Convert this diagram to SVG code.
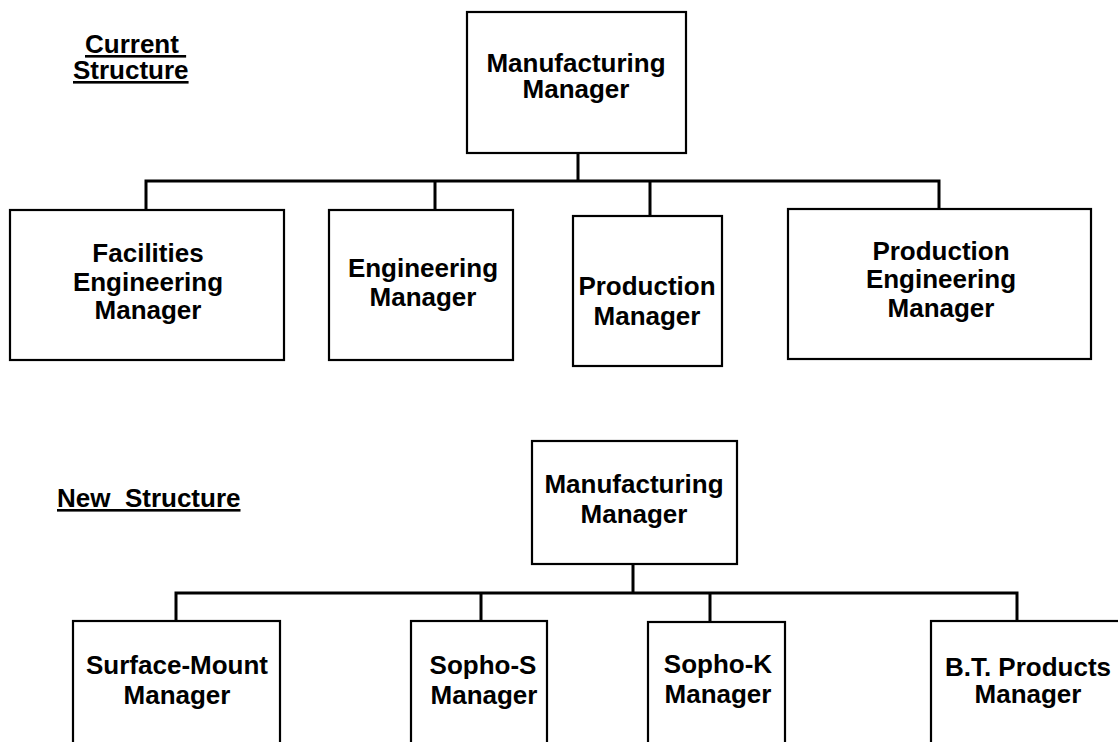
<svg xmlns="http://www.w3.org/2000/svg" width="1118" height="742" viewBox="0 0 1118 742">
<style>
.box{fill:#fff;stroke:#000;stroke-width:2.2}
.con{fill:none;stroke:#000;stroke-width:3;stroke-linecap:square}
text{font-family:"Liberation Sans",Arial,sans-serif;font-weight:bold;font-size:26px;fill:#000}
.c{text-anchor:middle}
.u{text-decoration:underline}
</style>
<rect width="1118" height="742" fill="#fff"/>
<g id="title-current">
<text class="u" x="85" y="53" xml:space="preserve">Current </text>
<text class="u" x="73" y="79">Structure</text>
</g>
<g id="title-new">
<text class="u" x="57" y="507" xml:space="preserve">New  Structure</text>
</g>
<g id="connectors">
<path class="con" d="M578 153V181M146 181H939M146 181V210M435 181V210M650 181V216M939 181V209"/>
<path class="con" d="M633 564V593M176 593H1017M176 593V621M481 593V621M710 593V621M1017 593V621"/>
</g>
<g id="cur-mfg">
<rect class="box" x="467" y="12" width="219" height="141"/>
<text class="c" x="576" y="72">Manufacturing</text>
<text class="c" x="576" y="98">Manager</text>
</g>
<g id="cur-facilities">
<rect class="box" x="10" y="210" width="274" height="150"/>
<text class="c" x="148" y="262">Facilities</text>
<text class="c" x="148" y="291">Engineering</text>
<text class="c" x="148" y="319">Manager</text>
</g>
<g id="cur-engineering">
<rect class="box" x="329" y="210" width="184" height="150"/>
<text class="c" x="423" y="277">Engineering</text>
<text class="c" x="423" y="306">Manager</text>
</g>
<g id="cur-production">
<rect class="box" x="573" y="216" width="149" height="150"/>
<text class="c" x="647" y="295">Production</text>
<text class="c" x="647" y="325">Manager</text>
</g>
<g id="cur-prodeng">
<rect class="box" x="788" y="209" width="303" height="150"/>
<text class="c" x="941" y="260">Production</text>
<text class="c" x="941" y="288">Engineering</text>
<text class="c" x="941" y="317">Manager</text>
</g>
<g id="new-mfg">
<rect class="box" x="532" y="441" width="205" height="123"/>
<text class="c" x="634" y="493">Manufacturing</text>
<text class="c" x="634" y="523">Manager</text>
</g>
<g id="new-surface">
<rect class="box" x="73" y="621" width="207" height="140"/>
<text class="c" x="177" y="674">Surface-Mount</text>
<text class="c" x="177" y="704">Manager</text>
</g>
<g id="new-sophos">
<rect class="box" x="411" y="621" width="136" height="140"/>
<text class="c" x="483" y="674">Sopho-S</text>
<text class="c" x="484" y="704">Manager</text>
</g>
<g id="new-sophok">
<rect class="box" x="648" y="622" width="137" height="140"/>
<text class="c" x="718" y="673">Sopho-K</text>
<text class="c" x="718" y="703">Manager</text>
</g>
<g id="new-bt">
<rect class="box" x="931" y="621" width="200" height="140"/>
<text class="c" x="1028" y="676">B.T. Products</text>
<text class="c" x="1028" y="703">Manager</text>
</g>
</svg>
